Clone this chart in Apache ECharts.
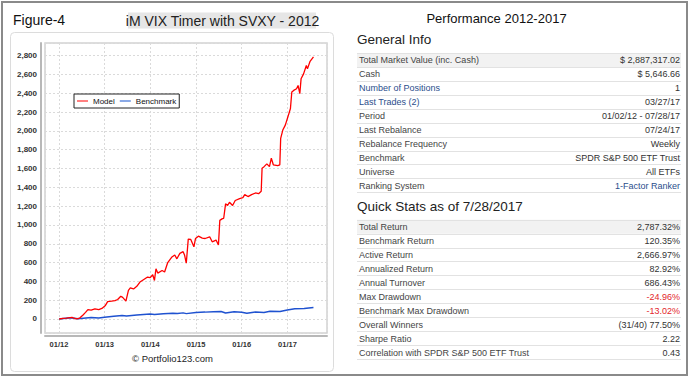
<!DOCTYPE html>
<html><head><meta charset="utf-8">
<script src="https://cdn.jsdelivr.net/npm/echarts@6/dist/echarts.min.js"></script>
<style>html,body{margin:0;padding:0;background:#fff}#c{width:690px;height:378px}</style>
</head><body><div id="c"></div>
<script>
// ---- data ----
const modelDates = ['2012-01-03','2012-02-01','2012-03-01','2012-04-15','2012-05-01','2012-05-20','2012-06-15','2012-07-10','2012-08-01','2012-08-20','2012-09-15','2012-10-15','2012-11-15','2012-12-10',
'2013-01-05','2013-01-25','2013-02-25','2013-03-25','2013-04-15','2013-05-10','2013-05-25','2013-06-20','2013-07-10','2013-07-25','2013-08-20','2013-09-15','2013-10-10','2013-11-10','2013-12-10','2013-12-31',
'2014-01-20','2014-02-03','2014-02-15','2014-03-01','2014-04-05','2014-04-25','2014-05-20','2014-06-20','2014-07-15','2014-08-01','2014-08-25','2014-09-20','2014-10-01','2014-10-15','2014-10-31','2014-11-20','2014-12-15','2014-12-28',
'2015-01-20','2015-02-20','2015-03-15','2015-04-20','2015-05-10','2015-06-10','2015-06-29','2015-07-10','2015-07-31','2015-08-10','2015-08-25','2015-09-10','2015-09-25','2015-10-20','2015-11-10','2015-12-15',
'2016-01-10','2016-01-25','2016-02-20','2016-03-20','2016-04-20','2016-05-15','2016-06-05','2016-06-12','2016-06-28','2016-07-20','2016-08-10','2016-08-25','2016-09-10','2016-10-15','2016-11-01','2016-11-08','2016-11-25','2016-12-15',
'2017-01-05','2017-01-25','2017-02-05','2017-02-20','2017-03-15','2017-03-27','2017-04-10','2017-04-20','2017-05-10','2017-06-01','2017-06-10','2017-07-01','2017-07-28'];
const modelValues = [0,6,10,18,8,0,10,40,70,100,95,108,100,112,
140,185,190,195,207,242,230,190,305,330,320,347,393,420,446,440,
470,410,534,488,516,500,600,656,680,640,698,716,681,593,849,846,768,856,
881,860,856,874,821,839,786,1049,1067,1071,1225,1207,1242,1207,1260,1280,
1290,1323,1302,1323,1340,1333,1358,1604,1620,1650,1620,1710,1640,1632,1640,1921,2009,2062,
2150,2238,2414,2431,2449,2484,2396,2554,2607,2695,2660,2740,2787];

const benchDates = ['2012-01-03','2012-04-01','2012-06-01','2012-09-15','2012-11-15','2012-12-31','2013-03-15','2013-05-20','2013-06-25','2013-09-15','2013-12-31',
'2014-02-03','2014-04-15','2014-06-30','2014-08-05','2014-09-20','2014-10-15','2014-12-31','2015-03-15','2015-05-20','2015-07-20','2015-08-25','2015-11-01',
'2016-01-01','2016-02-11','2016-04-20','2016-06-27','2016-08-15','2016-11-03','2016-12-31','2017-03-01','2017-05-15','2017-07-28'];
const benchValues = [0,12,3,16,10,18,30,38,32,42,54,47,56,62,58,65,57,70,73,78,80,64,76,72,62,75,70,82,80,95,108,112,122];

const seriesNames = ['Model','Benchmark'];
const xTickLabels = ['01/12','01/13','01/14','01/15','01/16','01/17'];
const xTickYears = [2012,2013,2014,2015,2016,2017];

const generalLabels = ['Total Market Value (inc. Cash)','Cash','Number of Positions','Last Trades (2)','Period','Last Rebalance','Rebalance Frequency','Benchmark','Universe','Ranking System'];
const generalValues = ['$ 2,887,317.02','$ 5,646.66','1','03/27/17','01/02/12 - 07/28/17','07/24/17','Weekly','SPDR S&P 500 ETF Trust','All ETFs','1-Factor Ranker'];
const statsLabels = ['Total Return','Benchmark Return','Active Return','Annualized Return','Annual Turnover','Max Drawdown','Benchmark Max Drawdown','Overall Winners','Sharpe Ratio','Correlation with SPDR S&P 500 ETF Trust'];
const statsValues = ['2,787.32%','120.35%','2,666.97%','82.92%','686.43%','-24.96%','-13.02%','(31/40) 77.50%','2.22','0.43'];

// ---- helpers / styles ----
function toYear(s){const p=s.split('-').map(Number);const t=Date.UTC(p[0],p[1]-1,p[2]);const a=Date.UTC(p[0],0,1),b=Date.UTC(p[0]+1,0,1);return p[0]+(t-a)/(b-a);}
const FF = '"Liberation Sans", Arial, sans-serif';
const blueLabelIdx = [2,3];
const blueValueIdx = [9];
const redStatIdx = [5,6];

const graphic = [];
// outer frame
graphic.push({type:'rect',z:0,shape:{x:2,y:2,width:685,height:373},style:{fill:'none',stroke:'#8a8a8a',lineWidth:2}});
// chart card
graphic.push({type:'rect',z:0,shape:{x:10.5,y:32.5,width:323,height:339,r:4},style:{fill:'none',stroke:'#dcdcdc',lineWidth:1}});
graphic.push({type:'text',z:5,x:13,y:20,style:{text:'Figure-4',fill:'#111',fontSize:14,fontFamily:FF,align:'left',verticalAlign:'middle'}});
graphic.push({type:'rect',z:1,shape:{x:128,y:12.5,width:188,height:16},style:{fill:'#e6e6e6'}});
graphic.push({type:'text',z:5,x:222.5,y:20.5,style:{text:'iM VIX Timer with SVXY - 2012',fill:'#222',fontSize:14,fontFamily:FF,align:'center',verticalAlign:'middle'}});
graphic.push({type:'text',z:5,x:172.5,y:358,style:{text:'© Portfolio123.com',fill:'#222',fontSize:9.5,fontFamily:FF,align:'center',verticalAlign:'middle'}});
// right panel
graphic.push({type:'text',z:5,x:496.5,y:18.5,style:{text:'Performance 2012-2017',fill:'#111',fontSize:13,fontFamily:FF,align:'center',verticalAlign:'middle'}});
graphic.push({type:'text',z:5,x:357,y:39,style:{text:'General Info',fill:'#222',fontSize:13.5,fontFamily:FF,align:'left',verticalAlign:'middle'}});
graphic.push({type:'text',z:5,x:357,y:206,style:{text:'Quick Stats as of 7/28/2017',fill:'#222',fontSize:13.5,fontFamily:FF,align:'left',verticalAlign:'middle'}});

function table(top, labels, values, labelColor, valueColor){
  const rh = 13.93;
  graphic.push({type:'rect',z:1,shape:{x:357,y:top,width:324,height:rh},style:{fill:'#f2f2f2'}});
  for(let i=0;i<=labels.length;i++){
    const y = Math.round(top + rh*i) + 0.5;
    graphic.push({type:'line',z:2,shape:{x1:357,y1:y,x2:681,y2:y},style:{stroke:'#e2e2e2',lineWidth:1}});
  }
  labels.forEach((l,i)=>{
    const cy = top + rh*i + rh/2 + 0.5;
    graphic.push({type:'text',z:5,x:359,y:cy,style:{text:l,fill:labelColor(i),fontSize:9,fontFamily:FF,align:'left',verticalAlign:'middle'}});
    graphic.push({type:'text',z:5,x:680,y:cy,style:{text:values[i],fill:valueColor(i),fontSize:9,fontFamily:FF,align:'right',verticalAlign:'middle'}});
  });
}
table(53, generalLabels, generalValues, i=>blueLabelIdx.includes(i)?'#2b4e8c':'#444', i=>blueValueIdx.includes(i)?'#2b4e8c':'#333');
table(219.7, statsLabels, statsValues, ()=> '#444', i=>redStatIdx.includes(i)?'#e3262b':'#333');

const chart = echarts.init(document.getElementById('c'), null, {renderer:'svg'});
chart.setOption({
  animation:false,
  backgroundColor:'#fff',
  graphic: graphic,
  grid:{left:45,top:43,right:363,bottom:45,show:true,borderColor:'#d2d2d2',borderWidth:1.5,backgroundColor:'#fff'},
  legend:{
    left:74, top:94, orient:'horizontal',
    data:[{name:seriesNames[0],itemStyle:{color:'#ff8080',borderWidth:0},lineStyle:{color:'#ff8080'}},{name:seriesNames[1],itemStyle:{color:'#8aa9e6',borderWidth:0},lineStyle:{color:'#8aa9e6'}}],
    icon:'rect', itemWidth:11, itemHeight:2, itemGap:5, itemTextGap:2,
    padding:[3,3,3,3], borderColor:'#222', borderWidth:1, backgroundColor:'#fff',
    textStyle:{fontSize:8, fontFamily:FF, color:'#111', lineHeight:8}
  },
  xAxis:{
    type:'value', min:2011.695, max:2017.866, minInterval:1, maxInterval:1,
    offset:3,
    axisLine:{show:true,onZero:false,lineStyle:{color:'#b8b8b8',width:2}},
    axisTick:{show:false},
    axisLabel:{margin:4,fontSize:7.5,fontWeight:'bold',fontFamily:FF,color:'#333',
      formatter:v=>{const i=xTickYears.indexOf(Math.round(v));return (Math.abs(v-Math.round(v))<1e-6&&i>=0)?xTickLabels[i]:'';}},
    splitLine:{show:true,lineStyle:{color:'#dadada',type:[2,2],width:1}}
  },
  yAxis:{
    type:'value', min:-149, max:2935, minInterval:200, maxInterval:200,
    offset:4,
    axisLine:{show:true,onZero:false,lineStyle:{color:'#b8b8b8',width:2}},
    axisTick:{show:false},
    axisLabel:{margin:4,fontSize:8,fontWeight:'bold',fontFamily:FF,color:'#333',
      formatter:v=>(Math.abs(v%200)<1e-6)?String(v).replace(/\B(?=(\d{3})+(?!\d))/g,','):''},
    splitLine:{show:true,lineStyle:{color:'#dadada',type:[2,2],width:1}}
  },
  series:[
    {name:seriesNames[0],type:'line',showSymbol:false,symbol:'none',data:modelDates.map((d,i)=>[toYear(d),modelValues[i]]),lineStyle:{color:'#ff0000',width:1.3},itemStyle:{color:'#ff0000'},z:3},
    {name:seriesNames[1],type:'line',showSymbol:false,symbol:'none',data:benchDates.map((d,i)=>[toYear(d),benchValues[i]]),lineStyle:{color:'#1f52d0',width:1.5},itemStyle:{color:'#1f52d0'},z:2}
  ]
});
</script></body></html>
